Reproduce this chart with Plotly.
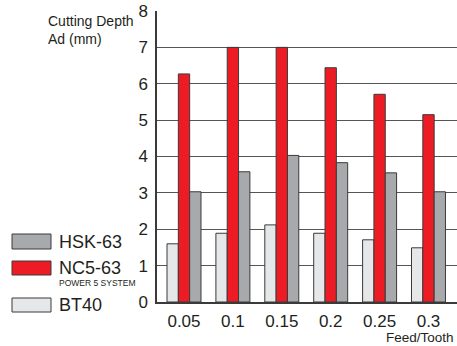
import plotly.graph_objects as go

# valeurs
FEEDS = ["0.05", "0.1", "0.15", "0.2", "0.25", "0.3"]
BT40 = [1.6, 1.89, 2.12, 1.89, 1.71, 1.49]
NC5_63 = [6.27, 7.0, 7.0, 6.44, 5.71, 5.15]
HSK_63 = [3.03, 3.58, 4.03, 3.83, 3.55, 3.03]

W, H = 457, 346
L, R, T, B = 157, 0, 11, 44
FONT = "Liberation Sans, Arial, sans-serif"
OUTLINE = "#3a3a3a"


def px(x):
    return (x - L) / (W - L - R)


def py(y):
    return (H - B - y) / (H - T - B)


fig = go.Figure()
for name, vals, color in [("BT40", BT40, "#E6E7E8"),
                          ("NC5-63", NC5_63, "#ED1C24"),
                          ("HSK-63", HSK_63, "#A7A9AC")]:
    fig.add_trace(go.Bar(x=FEEDS, y=vals, name=name, marker_color=color,
                         marker_line=dict(color=OUTLINE, width=1)))

# légende dessinée à la main (pavés + textes)
legend = [("HSK-63", "#A7A9AC", 234, 249), ("NC5-63", "#ED1C24", 261, 275),
          ("BT40", "#E6E7E8", 298, 312)]
for label, color, y0, y1 in legend:
    fig.add_shape(type="rect", xref="paper", yref="paper",
                  x0=px(12), x1=px(51), y0=py(y1), y1=py(y0),
                  fillcolor=color, line=dict(color=OUTLINE, width=1))
    fig.add_annotation(text=label, xref="paper", yref="paper",
                       x=px(57), y=py((y0 + y1) / 2), xanchor="left",
                       yanchor="middle", showarrow=False,
                       font=dict(size=18, color="#231f20", family=FONT))
fig.add_annotation(text="POWER 5 SYSTEM", xref="paper", yref="paper",
                   x=px(57), y=py(283), xanchor="left", yanchor="middle",
                   showarrow=False, font=dict(size=8.5, color="#231f20", family=FONT))

fig.add_annotation(text="Cutting Depth<br>Ad (mm)", xref="paper", yref="paper",
                   x=px(46), y=py(11), xanchor="left", yanchor="top", align="left",
                   showarrow=False, font=dict(size=14, color="#231f20", family=FONT))
fig.add_annotation(text="Feed/Tooth", xref="paper", yref="paper",
                   x=px(455), y=py(337.5), xanchor="right", yanchor="middle",
                   showarrow=False, borderpad=0,
                   font=dict(size=13.5, color="#231f20", family=FONT))

fig.update_layout(
    width=W, height=H, margin=dict(l=L, r=R, t=T, b=B),
    barmode="group", bargap=0.305, bargroupgap=0,
    showlegend=False, plot_bgcolor="white", paper_bgcolor="white",
    font=dict(family=FONT, color="#231f20"),
)
fig.update_xaxes(range=[-0.552, 5.583], showline=True, linecolor=OUTLINE,
                 linewidth=1.5, showgrid=False, ticks="",
                 tickfont=dict(size=17), ticklabelstandoff=3)
fig.update_yaxes(range=[0, 8], dtick=1, showline=True, linecolor=OUTLINE,
                 linewidth=1.5, showgrid=True, gridcolor="#555555", gridwidth=1,
                 zeroline=False, ticks="", tickfont=dict(size=17),
                 ticklabelstandoff=4)

# pas de marge autour du graphique dans la page, pas de barre d'outils
fig.write_html("out.html", config={"displayModeBar": False},
               post_script="document.body.style.margin = '0';")
